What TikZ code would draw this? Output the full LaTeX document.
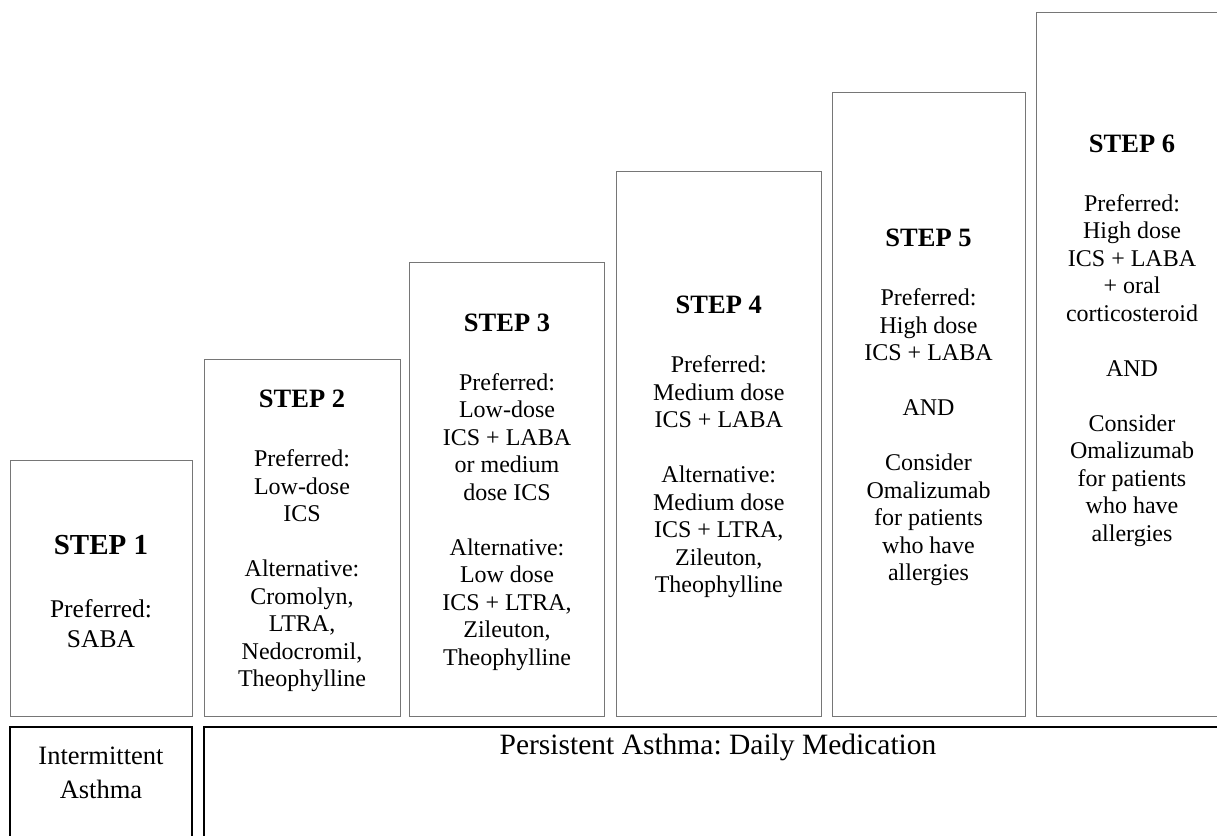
\documentclass[tikz,border=0pt]{standalone}
\usepackage{fontspec}
\setmainfont{Liberation Serif}
\frenchspacing
\definecolor{boxgray}{RGB}{118,118,118}
\begin{document}
\begin{tikzpicture}[x=1pt,y=-1pt,
  stepbox/.style={draw=boxgray, line width=1pt, inner sep=0pt, outer sep=0pt},
  basebox/.style={draw=black, line width=2pt, inner sep=0pt, outer sep=0pt},
  head/.style={font=\bfseries\fontsize{26.5}{30}\selectfont, inner sep=0pt},
  bodytext/.style={font=\fontsize{24}{27.5}\selectfont, align=center, inner sep=0pt, anchor=north},
  baselabel/.style={font=\fontsize{26.5}{33.5}\selectfont, align=center, inner sep=0pt}
]
\useasboundingbox (0,0) rectangle (1217,835);
\clip (0,0) rectangle (1217,835);

% step boxes
\node[stepbox, minimum width=182pt, minimum height=256pt] (s1) at (101,588) {};
\node[stepbox, minimum width=196pt, minimum height=357pt] (s2) at (302,537.5) {};
\node[stepbox, minimum width=195pt, minimum height=454pt] (s3) at (507,489) {};
\node[stepbox, minimum width=205.5pt, minimum height=545pt] (s4) at (718.75,443.5) {};
\node[stepbox, minimum width=193pt, minimum height=624pt] (s5) at (928.5,404) {};
\node[stepbox, minimum width=192pt, minimum height=704pt] (s6) at (1132,364) {};

% bottom boxes
\node[basebox, minimum width=182pt, minimum height=173pt] (ia) at (101,813.5) {};
\node[basebox, minimum width=1028pt, minimum height=173pt] (pa) at (718,813.5) {};

% headings
\node[head, font=\bfseries\fontsize{29}{33}\selectfont] (h1) at (101,545.5) {STEP 1};
\node[head] (h2) at (302,399) {STEP 2};
\node[head] (h3) at (507,322.5) {STEP 3};
\node[head] (h4) at (718.75,305) {STEP 4};
\node[head] (h5) at (928.5,238) {STEP 5};
\node[head] (h6) at (1132,143.5) {STEP 6};

% body texts
\node[bodytext, font=\fontsize{25.5}{29.5}\selectfont] (b1) at (101,599.5) {Preferred:\\SABA};
\node[bodytext] (b2) at (302,449.5) {Preferred:\\Low-dose\\ICS\\[27.5pt]Alternative:\\Cromolyn,\\LTRA,\\Nedocromil,\\Theophylline};
\node[bodytext] (b3) at (507,373) {Preferred:\\Low-dose\\ICS + LABA\\or medium\\dose ICS\\[27.5pt]Alternative:\\Low dose\\ICS + LTRA,\\Zileuton,\\Theophylline};
\node[bodytext] (b4) at (718.75,355.5) {Preferred:\\Medium dose\\ICS + LABA\\[27.5pt]Alternative:\\Medium dose\\ICS + LTRA,\\Zileuton,\\Theophylline};
\node[bodytext] (b5) at (928.5,288.5) {Preferred:\\High dose\\ICS + LABA\\[27.5pt]AND\\[27.5pt]Consider\\Omalizumab\\for patients\\who have\\allergies};
\node[bodytext] (b6) at (1132,194) {Preferred:\\High dose\\ICS + LABA\\+ oral\\corticosteroid\\[27.5pt]AND\\[27.5pt]Consider\\Omalizumab\\for patients\\who have\\allergies};

% bottom labels
\node[baselabel, anchor=north] (ti) at (101,747) {Intermittent\\Asthma};
\node[font=\fontsize{29.5}{34}\selectfont, inner sep=0pt, anchor=base] (tp) at (718,754.5) {Persistent Asthma: Daily Medication};
\end{tikzpicture}
\end{document}
